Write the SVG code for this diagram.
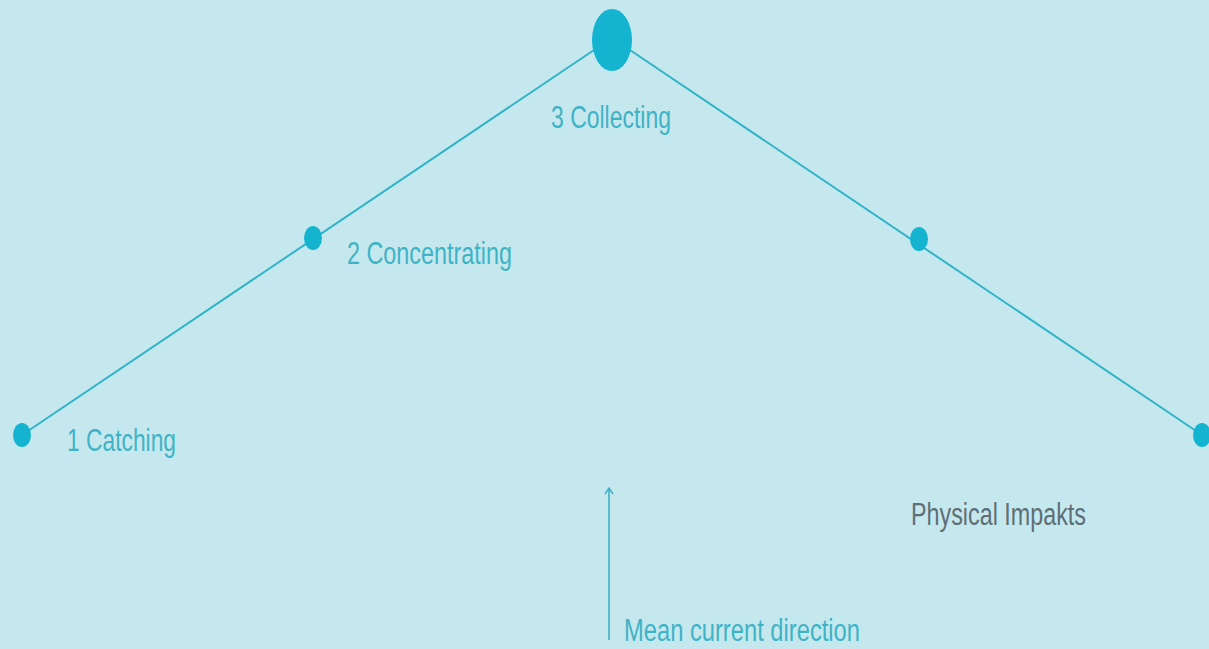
<svg xmlns="http://www.w3.org/2000/svg" width="1209" height="649" viewBox="0 0 1209 649">
<defs>
<style>
.lbl{font-family:"Liberation Sans",Arial,sans-serif;font-size:31px;fill:#3fb3c6}
.gray{font-family:"Liberation Sans",Arial,sans-serif;font-size:31px;fill:#5d6f75}
.ln{stroke:#2fb3c9;stroke-width:2;fill:none}
.dot{fill:#14b4d0}
</style>
<marker id="ah" viewBox="0 0 10 10" refX="9" refY="5" markerWidth="10" markerHeight="10" markerUnits="userSpaceOnUse" orient="auto">
<path d="M3,1 L9,5 L3,9" fill="none" stroke="#3bb0c4" stroke-width="1.4"/>
</marker>
</defs>
<rect width="1209" height="649" fill="#c5e8ee"/>
<g id="connectors">
<line class="ln" x1="22" y1="435" x2="600" y2="46"/>
<line class="ln" x1="624" y1="46" x2="1202" y2="435"/>
<line x1="609" y1="640" x2="609" y2="488" stroke="#3bb0c4" stroke-width="1.6" marker-end="url(#ah)"/>
</g>
<g id="n3"><ellipse class="dot" cx="612" cy="40" rx="20" ry="31"/><text class="lbl" x="551" y="128" textLength="120" lengthAdjust="spacingAndGlyphs">3 Collecting</text></g>
<g id="n2"><ellipse class="dot" cx="313" cy="238" rx="9" ry="12"/><text class="lbl" x="347" y="264" textLength="165" lengthAdjust="spacingAndGlyphs">2 Concentrating</text></g>
<g id="n1"><ellipse class="dot" cx="22" cy="435" rx="9" ry="12"/><text class="lbl" x="67" y="451" textLength="109" lengthAdjust="spacingAndGlyphs">1 Catching</text></g>
<g id="n4"><ellipse class="dot" cx="919" cy="239" rx="9" ry="12"/></g>
<g id="n5"><ellipse class="dot" cx="1202" cy="435" rx="9" ry="12"/></g>
<g id="impacts"><text class="gray" x="911" y="525" textLength="175" lengthAdjust="spacingAndGlyphs">Physical Impakts</text></g>
<g id="current"><text class="lbl" x="624" y="641" textLength="236" lengthAdjust="spacingAndGlyphs">Mean current direction</text></g>
</svg>
